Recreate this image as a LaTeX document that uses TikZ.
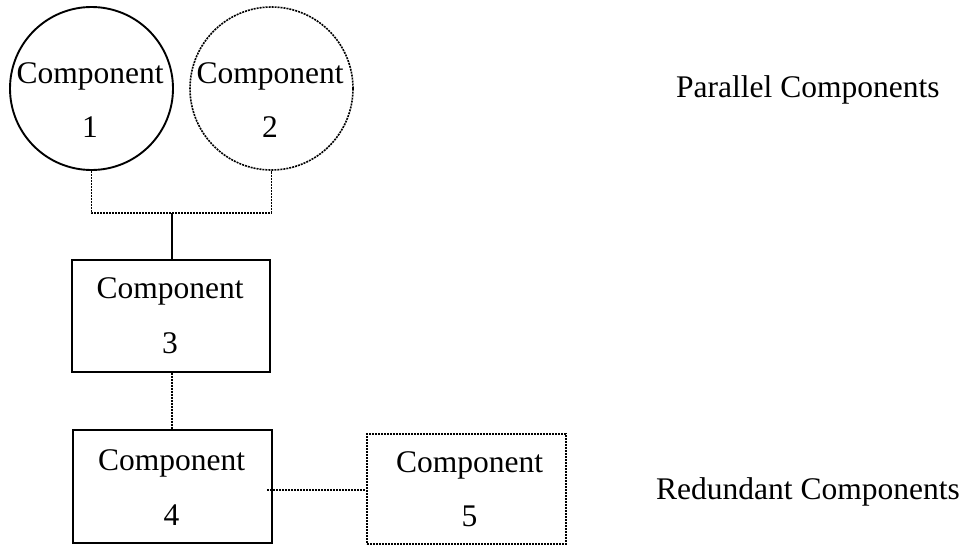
\documentclass[tikz,border=0pt]{standalone}
\usepackage{fontspec}
\setmainfont{Liberation Serif}
\begin{document}
\begin{tikzpicture}[x=1pt,y=-1pt,
  solidline/.style={line width=1.9pt},
  dotline/.style={line width=1.6pt, dash pattern=on 2pt off 1pt},
  solidwire/.style={line width=1.4pt},
  unitcirc/.style={circle, inner sep=0pt, minimum size=163pt},
  unitbox/.style={rectangle, inner sep=0pt},
  txt/.style={inner sep=0pt, anchor=base, font=\fontsize{31.5}{38}\selectfont},
  caption/.style={inner sep=0pt, anchor=base west, font=\fontsize{31.5}{38}\selectfont}]
\useasboundingbox (0,0) rectangle (967,546);

% parallel pair
\node[unitcirc, draw, solidline] (c1) at (91.5,88.5) {};
\node[unitcirc, draw, dotline] (c2) at (271.5,88.5) {};
\node[txt] (c1a) at (90,83) {Component};
\node[txt] (c1b) at (90,137) {1};
\node[txt] (c2a) at (270,83) {Component};
\node[txt] (c2b) at (270,137) {2};

% series boxes
\node[unitbox, draw, solidline, minimum width=198pt, minimum height=111.5pt] (b3) at (171,316) {};
\node[unitbox, draw, solidline, minimum width=198.5pt, minimum height=113pt] (b4) at (172.5,486.5) {};
\node[unitbox, draw, dotline, minimum width=199pt, minimum height=110pt] (b5) at (466.5,489) {};
\node[txt] (b3a) at (170,298) {Component};
\node[txt] (b3b) at (170,353) {3};
\node[txt] (b4a) at (171.5,470) {Component};
\node[txt] (b4b) at (171.5,525.5) {4};
\node[txt] (b5a) at (469.5,472) {Component};
\node[txt] (b5b) at (469.5,526) {5};

% wiring
\coordinate (bus) at (172,213);
\draw[dotline] (c1.south) |- (bus) -| (c2.south);
\draw[solidwire] (bus) -- (b3.north -| bus);
\draw[dotline] (b3.south -| bus) -- (b4.north -| bus);
\coordinate (j45) at (267.3,490);
\draw[dotline] (j45) -- (j45 -| b5.west);

% captions
\node[caption] (par) at (676,97) {Parallel Components};
\node[caption] (red) at (656,499) {Redundant Components};
\end{tikzpicture}
\end{document}
